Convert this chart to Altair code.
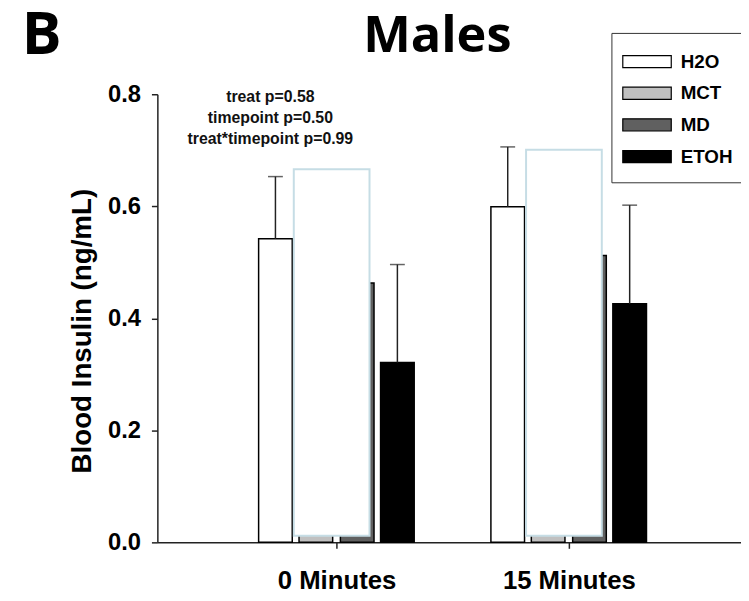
import json
import altair as alt
import pandas as pd

# ---------------- data ----------------
timepoints = ["0 Minutes", "15 Minutes"]
treatments = ["H2O", "MCT", "MD", "ETOH"]
fill_colors = ["#ffffff", "#c0c0c0", "#606060", "#000000"]

mean_h2o = [0.542, 0.599]
mean_mct = [0.550, 0.600]   # hidden behind the outlined box
mean_md = [0.463, 0.512]
mean_etoh = [0.321, 0.426]

upper_h2o = [0.653, 0.706]
upper_etoh = [0.496, 0.602]

box_top = [0.666, 0.701]
box_bottom = [0.012, 0.012]

stats_lines = ["treat p=0.58", "timepoint p=0.50", "treat*timepoint p=0.99"]
y_ticks = [0.0, 0.2, 0.4, 0.6, 0.8]

# ---------------- layout constants ----------------
group_pos = [1, 2]
bar_offset = {"H2O": -0.263, "MCT": -0.089, "MD": 0.089, "ETOH": 0.262}
box_left_off, box_right_off = -0.184, 0.142
FONT = "Liberation Sans"

means = {"H2O": mean_h2o, "MCT": mean_mct, "MD": mean_md, "ETOH": mean_etoh}
uppers = {"H2O": upper_h2o, "ETOH": upper_etoh}

bar_rows = []
for t in treatments:
    for i, tp in enumerate(timepoints):
        bar_rows.append({"treatment": t, "time": tp, "mean": means[t][i],
                         "x": group_pos[i] + bar_offset[t]})
bars_df = pd.DataFrame(bar_rows)

err_rows = []
for t, ups in uppers.items():
    for i, tp in enumerate(timepoints):
        err_rows.append({"treatment": t, "time": tp, "mean": means[t][i],
                         "upper": ups[i], "x": group_pos[i] + bar_offset[t]})
err_df = pd.DataFrame(err_rows)

box_df = pd.DataFrame({
    "time": timepoints,
    "x1": [g + box_left_off for g in group_pos],
    "x2": [g + box_right_off for g in group_pos],
    "top": box_top,
    "bottom": box_bottom,
})

stats_df = pd.DataFrame({"text": ["\n".join(stats_lines)], "x": [0.715], "y": [0.795]})
panel_df = pd.DataFrame({"text": ["B"]})
title_df = pd.DataFrame({"text": ["Males"]})

xscale = alt.Scale(domain=[0.25, 2.72], nice=False, zero=False)
yscale = alt.Scale(domain=[0, 0.8], nice=False)

label_expr = json.dumps(timepoints) + "[datum.value - 1]"

x_axis = alt.Axis(
    values=group_pos, labelExpr=label_expr, title=None, grid=False,
    tickSize=6, tickWidth=1.5, tickColor="#222", domainColor="#222", domainWidth=1.5,
    labelFont=FONT, labelFontWeight="bold", labelFontSize=26, labelColor="black",
    labelPadding=20, labelFlush=False, labelBaseline="top",
)
y_axis = alt.Axis(
    values=y_ticks, format=".1f", title="Blood Insulin (ng/mL)", grid=False,
    tickSize=6, tickWidth=1.5, tickColor="#222", domainColor="#222", domainWidth=1.5,
    labelFont=FONT, labelFontWeight="bold", labelFontSize=24, labelColor="black",
    labelPadding=11,
    titleFont=FONT, titleFontWeight="bold", titleFontSize=28, titleColor="black",
    titleX=-68, titleY=239, titleBaseline="alphabetic", titleAlign="center", titleAngle=270,
)

pad = "\u00a0" * 8
legend = alt.Legend(
    title=None, orient="none", legendX=459, legendY=-62,
    symbolType="M-2,-0.5L2,-0.5L2,0.5L-2,0.5Z", symbolSize=600,
    symbolStrokeColor="black", symbolStrokeWidth=1.2, symbolOpacity=1,
    symbolOffset=7,
    labelFont=FONT, labelFontWeight="bold", labelFontSize=19, labelColor="black",
    labelOffset=21, rowPadding=9, padding=16,
    strokeColor="#333", fillColor="white",
    labelExpr="datum.label + '" + pad + "'",
)

bars = alt.Chart(bars_df).mark_bar(size=34, stroke="black", strokeWidth=1.5).encode(
    x=alt.X("x:Q", scale=xscale, axis=x_axis),
    y=alt.Y("mean:Q", scale=yscale, axis=y_axis),
    fill=alt.Fill("treatment:N", scale=alt.Scale(domain=treatments, range=fill_colors),
                  legend=legend, sort=treatments),
)

err_line = alt.Chart(err_df).mark_rule(color="#222", strokeWidth=1.5).encode(
    x="x:Q", y="mean:Q", y2="upper:Q")
err_cap = alt.Chart(err_df).mark_tick(color="#222", orient="horizontal", size=15,
                                       thickness=1.5).encode(x="x:Q", y="upper:Q")

box = alt.Chart(box_df).mark_rect(fill="white", stroke="#c6dde5", strokeWidth=2).encode(
    x="x1:Q", x2="x2:Q", y="top:Q", y2="bottom:Q")

stats = alt.Chart(stats_df).mark_text(
    font=FONT, fontWeight="bold", fontSize=16, lineBreak="\n", lineHeight=21,
    align="center", baseline="middle", color="#111",
).encode(x="x:Q", y="y:Q", text="text:N")

panel = alt.Chart(panel_df).mark_text(
    font="Open Sans", fontWeight="bold", fontSize=60, align="left",
    baseline="alphabetic", color="black",
).encode(x=alt.value(-137), y=alt.value(-41), text="text:N")

title = alt.Chart(title_df).mark_text(
    font="Open Sans", fontWeight="bold", fontSize=51, align="center",
    baseline="alphabetic", color="black",
).encode(x=alt.value(283), y=alt.value(-43), text="text:N")

chart = alt.layer(bars, err_line, err_cap, box, stats, panel, title).properties(
    width=590, height=453,
    autosize=alt.AutoSizeParams(type="none"),
    padding={"left": 151, "top": 84, "right": 0, "bottom": 48},
    background="white",
).configure_view(stroke=None)

chart.save("out.html", embed_options={"renderer": "svg", "actions": False})
